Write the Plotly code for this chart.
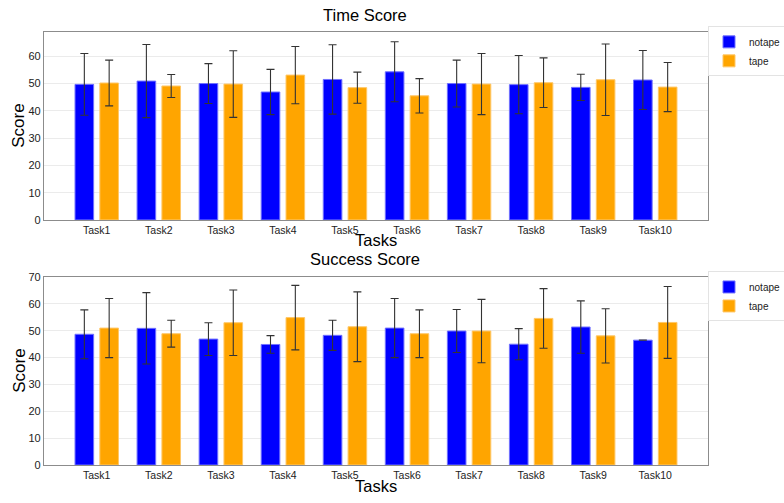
import plotly.graph_objects as go
from plotly.subplots import make_subplots

tasks = ["Task1", "Task2", "Task3", "Task4", "Task5", "Task6", "Task7", "Task8", "Task9", "Task10"]

time_notape = [49.7, 50.9, 50.0, 46.9, 51.5, 54.3, 50.0, 49.6, 48.6, 51.3]
time_notape_err = [11.3, 13.4, 7.3, 8.3, 12.7, 11.0, 8.6, 10.7, 4.8, 10.8]
time_tape = [50.2, 49.1, 49.8, 53.1, 48.5, 45.5, 49.8, 50.3, 51.4, 48.7]
time_tape_err = [8.4, 4.2, 12.2, 10.5, 5.7, 6.3, 11.2, 9.1, 13.1, 9.0]

succ_notape = [48.7, 50.9, 46.9, 44.9, 48.3, 51.0, 49.9, 45.0, 51.4, 46.5]
succ_notape_err = [9.1, 13.3, 6.1, 3.3, 5.6, 11.0, 8.0, 5.8, 9.75, 0.0]
succ_tape = [51.0, 48.9, 53.0, 54.9, 51.5, 48.9, 49.9, 54.6, 48.1, 53.1]
succ_tape_err = [11.0, 5.0, 12.2, 12.0, 13.0, 8.9, 11.8, 11.1, 10.1, 13.4]

BLUE = "#0000ff"
ORANGE = "#ffa500"
FONT = "Liberation Sans, Arial, sans-serif"

fig = make_subplots(rows=2, cols=1)

def add_pair(row, nv, ne, tv, te, legend):
    fig.add_trace(go.Bar(
        x=tasks, y=nv, name="notape", width=0.3, offset=-0.35,
        marker=dict(color=BLUE, line=dict(color="#7070ff", width=1)),
        error_y=dict(type="data", array=ne, color="#333333", thickness=1.1, width=4),
        legend=legend), row=row, col=1)
    fig.add_trace(go.Bar(
        x=tasks, y=tv, name="tape", width=0.3, offset=0.05,
        marker=dict(color=ORANGE, line=dict(color="#ffc766", width=1)),
        error_y=dict(type="data", array=te, color="#333333", thickness=1.1, width=4),
        legend=legend), row=row, col=1)

add_pair(1, time_notape, time_notape_err, time_tape, time_tape_err, "legend")
add_pair(2, succ_notape, succ_notape_err, succ_tape, succ_tape_err, "legend2")

fig.update_layout(
    width=784, height=503,
    margin=dict(l=44, r=76, t=32, b=38, autoexpand=False),
    plot_bgcolor="white", paper_bgcolor="white",
    barmode="group",
    font=dict(family=FONT, color="#222", size=10),
    legend=dict(x=1.0, y=1.013, xanchor="left", yanchor="top",
                bordercolor="#e3e3e3", borderwidth=1, font=dict(size=10),
                tracegroupgap=0, itemwidth=30),
    legend2=dict(x=1.0, y=0.447, xanchor="left", yanchor="top",
                 bordercolor="#e3e3e3", borderwidth=1, font=dict(size=10),
                 tracegroupgap=0, itemwidth=30),
)
fig.update_xaxes(row=1, col=1, domain=[0, 1])
fig.update_yaxes(row=1, col=1, domain=[0.566, 1.0])
fig.update_yaxes(row=2, col=1, domain=[0.0, 0.434])

def ann(text, x, y, size, angle=0):
    fig.add_annotation(text=text, x=x, xref="paper", y=y, yref="paper",
                       xanchor="center", yanchor="middle", showarrow=False,
                       textangle=angle, font=dict(size=size, color="black", family=FONT))

ann("Time Score", 0.483, 1.039, 16.5)
ann("Success Score", 0.483, 0.475, 16.5)
ann("Tasks", 0.5, 0.519, 16.5)
ann("Tasks", 0.5, -0.049, 16.5)
ann("Score", -0.038, 0.783, 17, -90)
ann("Score", -0.038, 0.217, 17, -90)

for r, top in [(1, 68.9), (2, 70)]:
    fig.update_xaxes(row=r, col=1, range=[-0.85, 9.85], showline=True, mirror=True,
                     linecolor="#8c8c8c", linewidth=1.2, showgrid=False, ticks="",
                     tickfont=dict(size=10.5, color="#222"))
    fig.update_yaxes(row=r, col=1, range=[0, top], dtick=10, showline=True, mirror=True,
                     linecolor="#8c8c8c", linewidth=1.2, showgrid=True, gridcolor="#ebebeb",
                     zeroline=False, ticks="", tickfont=dict(size=11, color="#222"))

fig.write_html("out.html")
